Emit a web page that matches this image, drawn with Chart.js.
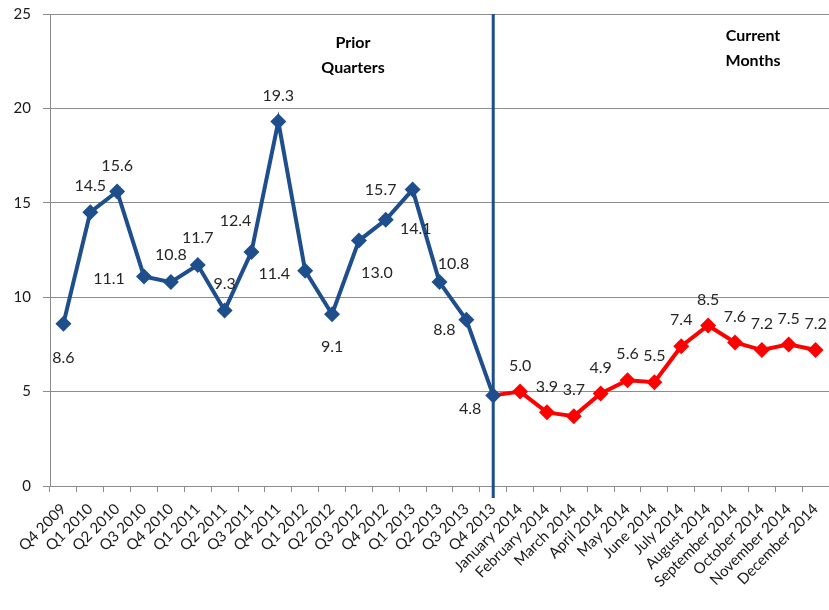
<!DOCTYPE html>
<html>
<head>
<meta charset="utf-8">
<script src="https://cdn.jsdelivr.net/npm/chart.js@4"></script>
<style>
    body { margin: 0; background: #fff; }
    #wrap { width: 829px; height: 610px; position: relative; }
</style>
</head>
<body>
<div id="wrap"><canvas id="chartData"></canvas></div>
<script>
const quarterLabels = ['Q4 2009', 'Q1 2010', 'Q2 2010', 'Q3 2010', 'Q4 2010', 'Q1 2011', 'Q2 2011', 'Q3 2011',
    'Q4 2011', 'Q1 2012', 'Q2 2012', 'Q3 2012', 'Q4 2012', 'Q1 2013', 'Q2 2013', 'Q3 2013', 'Q4 2013'];
const monthLabels = ['January 2014', 'February 2014', 'March 2014', 'April 2014', 'May 2014', 'June 2014',
    'July 2014', 'August 2014', 'September 2014', 'October 2014', 'November 2014', 'December 2014'];
const quarterValues = [8.6, 14.5, 15.6, 11.1, 10.8, 11.7, 9.3, 12.4, 19.3, 11.4, 9.1, 13.0, 14.1, 15.7, 10.8, 8.8, 4.8];
const monthValues = [5.0, 3.9, 3.7, 4.9, 5.6, 5.5, 7.4, 8.5, 7.6, 7.2, 7.5, 7.2];
const yMin = 0, yMax = 25, yStep = 5;

// label offsets (px) from each marker
const quarterLabelOffsets = [[0, 34], [0, -26], [0, -26], [-35, 2], [0, -27], [0, -27], [0, -27], [-16, -31],
    [0, -26], [-31, 3], [0, 33], [18, 32], [30, 9], [-32, 0], [14, -18], [-22, 10], [-23, 13]];
const monthLabelOffset = [0, -26];

const blue = '#1f4e8c';
const red = '#ff0000';
const fontFamily = 'Lato, "Open Sans", sans-serif';

let labels = quarterLabels.concat(monthLabels);
let nq = quarterValues.length;
let blueData = quarterValues.concat(monthLabels.map(() => null));
// red line starts at the last quarter point
let redData = quarterValues.map((v, i) => i == nq - 1 ? v : null).concat(monthValues);

const dividerPlugin = {
    id: 'divider',
    beforeDatasetsDraw(chart) {
        let ctx = chart.ctx;
        let x = chart.scales.x.getPixelForValue(nq - 1);
        ctx.save();
        ctx.strokeStyle = blue;
        ctx.lineWidth = 3;
        ctx.beginPath();
        ctx.moveTo(x, chart.chartArea.top);
        ctx.lineTo(x, chart.chartArea.bottom + 12);
        ctx.stroke();
        ctx.restore();
    }
};

const textPlugin = {
    id: 'texts',
    afterDatasetsDraw(chart) {
        let ctx = chart.ctx;
        ctx.save();
        ctx.fillStyle = '#262626';
        ctx.font = '16px ' + fontFamily;
        ctx.textAlign = 'center';
        ctx.textBaseline = 'middle';
        chart.getDatasetMeta(0).data.forEach((p, i) => {
            if (i >= nq) return;
            let off = quarterLabelOffsets[i];
            ctx.fillText(quarterValues[i].toFixed(1), p.x + off[0], p.y + off[1]);
        });
        chart.getDatasetMeta(1).data.forEach((p, i) => {
            if (i < nq) return;
            ctx.fillText(monthValues[i - nq].toFixed(1), p.x + monthLabelOffset[0], p.y + monthLabelOffset[1]);
        });

        ctx.fillStyle = '#000';
        ctx.font = 'bold 16px ' + fontFamily;
        ctx.fillText('Prior', 353, 43);
        ctx.fillText('Quarters', 353, 68);
        ctx.fillText('Current', 753, 36);
        ctx.fillText('Months', 753, 61);
        ctx.restore();
    }
};

const ctx = document.getElementById('chartData');

new Chart(ctx, {
    type: 'line',
    data: {
        labels: labels,
        datasets: [{
            label: 'Prior Quarters',
            data: blueData,
            borderColor: blue,
            backgroundColor: blue,
            borderWidth: 4,
            pointStyle: 'rectRot',
            pointRadius: 8,
            pointBorderWidth: 0,
            tension: 0
        }, {
            label: 'Current Months',
            data: redData,
            borderColor: red,
            backgroundColor: red,
            borderWidth: 4,
            pointStyle: 'rectRot',
            pointRadius: redData.map((v, i) => i < nq ? 0 : 8),
            pointBorderWidth: 0,
            tension: 0
        }]
    },
    options: {
        responsive: true,
        maintainAspectRatio: false,
        animation: false,
        layout: { autoPadding: false, padding: { top: 14, right: 0, left: 0, bottom: 0 } },
        plugins: {
            legend: { display: false },
            tooltip: { enabled: false }
        },
        scales: {
            x: {
                offset: true,
                grid: {
                    offset: true,
                    drawOnChartArea: false,
                    drawTicks: true,
                    tickLength: 6,
                    color: '#8c8c8c'
                },
                border: { color: '#8c8c8c' },
                ticks: {
                    autoSkip: false,
                    minRotation: 45,
                    maxRotation: 45,
                    padding: 8,
                    color: '#1a1a1a',
                    font: { family: fontFamily, size: 15 }
                },
                afterFit: (scale) => {
                    scale.height = 124;
                    scale.paddingLeft = 0;
                    scale.paddingRight = 0;
                }
            },
            y: {
                min: yMin,
                max: yMax,
                grid: {
                    color: '#8c8c8c',
                    tickLength: 7
                },
                border: { color: '#8c8c8c' },
                ticks: {
                    stepSize: yStep,
                    padding: 12,
                    color: '#1a1a1a',
                    font: { family: fontFamily, size: 15 }
                },
                afterFit: (scale) => {
                    scale.width = 50;
                    scale.paddingTop = 0;
                    scale.paddingBottom = 0;
                }
            }
        }
    },
    plugins: [dividerPlugin, textPlugin]
});
</script>
</body>
</html>
